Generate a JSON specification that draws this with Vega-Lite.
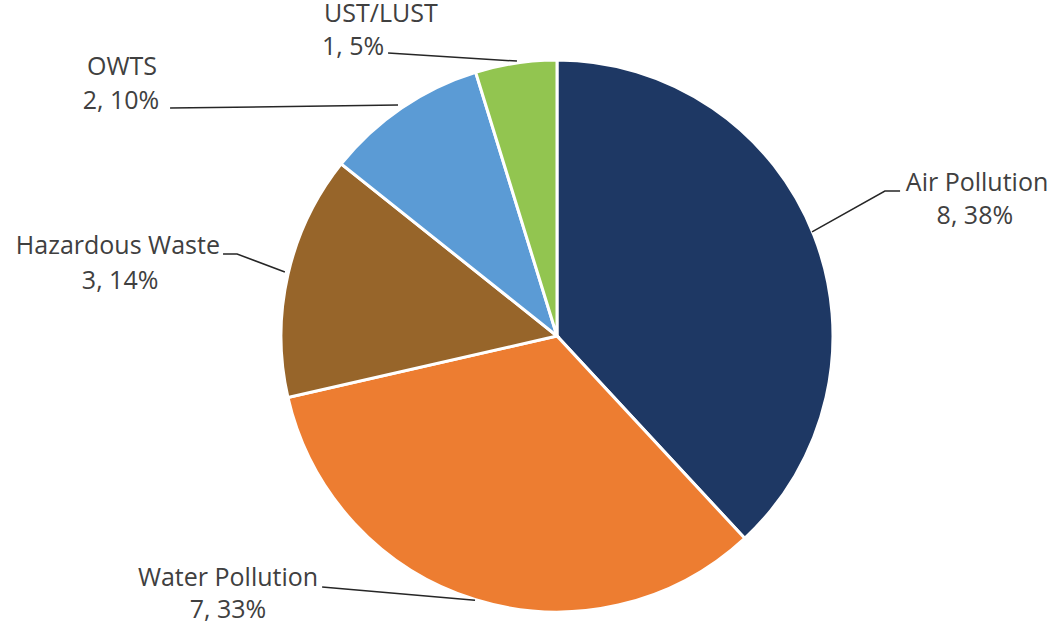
{
  "$schema": "https://vega.github.io/schema/vega-lite/v6.json",
  "width": 1062,
  "height": 634,
  "padding": 0,
  "autosize": {"type": "none"},
  "background": "white",
  "config": {"view": {"stroke": null}},
  "datasets": {
    "slices": [
      {"category": "Air Pollution", "count": 8, "ord": 1},
      {"category": "Water Pollution", "count": 7, "ord": 2},
      {"category": "Hazardous Waste", "count": 3, "ord": 3},
      {"category": "OWTS", "count": 2, "ord": 4},
      {"category": "UST/LUST", "count": 1, "ord": 5}
    ],
    "leaders": [
      {"slice": "Air Pollution", "seq": 1, "u": 0.924, "v": 0.377},
      {"slice": "Air Pollution", "seq": 2, "u": 1.188, "v": 0.525},
      {"slice": "Air Pollution", "seq": 3, "u": 1.243, "v": 0.525},
      {"slice": "Water Pollution", "seq": 1, "u": -0.297, "v": -0.957},
      {"slice": "Water Pollution", "seq": 2, "u": -0.851, "v": -0.909},
      {"slice": "Hazardous Waste", "seq": 1, "u": -0.986, "v": 0.232},
      {"slice": "Hazardous Waste", "seq": 2, "u": -1.159, "v": 0.297},
      {"slice": "Hazardous Waste", "seq": 3, "u": -1.21, "v": 0.297},
      {"slice": "OWTS", "seq": 1, "u": -0.576, "v": 0.837},
      {"slice": "OWTS", "seq": 2, "u": -1.402, "v": 0.826},
      {"slice": "UST/LUST", "seq": 1, "u": -0.145, "v": 0.996},
      {"slice": "UST/LUST", "seq": 2, "u": -0.612, "v": 1.025}
    ],
    "labels": [
      {"text": "Air Pollution", "u": 1.522, "v": 0.554},
      {"text": "8, 38%", "u": 1.514, "v": 0.435},
      {"text": "Water Pollution", "u": -1.192, "v": -0.877},
      {"text": "7, 33%", "u": -1.192, "v": -0.993},
      {"text": "Hazardous Waste", "u": -1.591, "v": 0.326},
      {"text": "3, 14%", "u": -1.583, "v": 0.199},
      {"text": "OWTS", "u": -1.576, "v": 0.975},
      {"text": "2, 10%", "u": -1.58, "v": 0.851},
      {"text": "UST/LUST", "u": -0.638, "v": 1.166},
      {"text": "1, 5%", "u": -0.739, "v": 1.047}
    ]
  },
  "resolve": {"scale": {"x": "shared", "y": "shared"}},
  "layer": [
    {
      "data": {"name": "slices"},
      "mark": {"type": "arc", "outerRadius": 276, "stroke": "white", "strokeWidth": 3},
      "encoding": {
        "x": {"datum": 0, "type": "quantitative", "scale": {"domain": [-2.0181, 1.8297], "nice": false, "zero": false}, "axis": null},
        "y": {"datum": 0, "type": "quantitative", "scale": {"domain": [-1.0797, 1.2174], "nice": false, "zero": false}, "axis": null},
        "theta": {"field": "count", "type": "quantitative", "stack": true},
        "order": {"field": "ord", "type": "quantitative"},
        "color": {
          "field": "category",
          "type": "nominal",
          "scale": {
            "domain": ["Air Pollution", "Water Pollution", "Hazardous Waste", "OWTS", "UST/LUST"],
            "range": ["#1E3864", "#ED7D31", "#97652A", "#5B9BD5", "#92C550"]
          },
          "legend": null
        }
      }
    },
    {
      "data": {"name": "leaders"},
      "mark": {"type": "line", "color": "#262626", "strokeWidth": 1.5},
      "encoding": {
        "x": {"field": "u", "type": "quantitative", "axis": null},
        "y": {"field": "v", "type": "quantitative", "axis": null},
        "detail": {"field": "slice", "type": "nominal"},
        "order": {"field": "seq", "type": "quantitative"}
      }
    },
    {
      "data": {"name": "labels"},
      "mark": {"type": "text", "font": "Open Sans", "fontSize": 25, "color": "#404040", "align": "center", "baseline": "middle"},
      "encoding": {
        "x": {"field": "u", "type": "quantitative", "axis": null},
        "y": {"field": "v", "type": "quantitative", "axis": null},
        "text": {"field": "text", "type": "nominal"}
      }
    }
  ]
}
